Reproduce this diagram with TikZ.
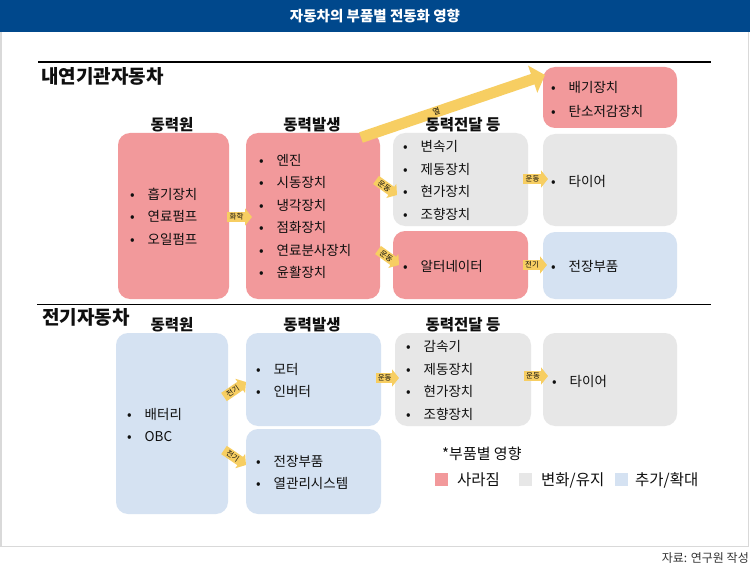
\documentclass[tikz,border=0pt]{standalone}
\usepackage{fontspec}
\setmainfont{Noto Sans CJK KR}
\usetikzlibrary{fit,arrows.meta}
\definecolor{pinkc}{RGB}{242,153,155}
\definecolor{grayc}{RGB}{231,231,231}
\definecolor{bluec}{RGB}{213,226,242}
\definecolor{yellowc}{RGB}{247,206,98}
\definecolor{titlec}{RGB}{0,72,140}
\definecolor{framec}{RGB}{217,217,217}
\definecolor{textc}{RGB}{15,15,15}
\newcommand{\itm}[1]{\makebox[17.5pt][l]{•}#1}
\begin{document}
\begin{tikzpicture}[x=1pt,y=-1pt,
  box/.style={rounded corners=12pt, inner sep=0pt, draw=none},
  pinkbox/.style={box, fill=pinkc},
  graybox/.style={box, fill=grayc},
  bluebox/.style={box, fill=bluec},
  listtxt/.style={anchor=west, align=left, inner sep=0pt, text=textc, font=\fontsize{13.5}{22.5}\selectfont},
  colhead/.style={inner sep=0pt, text=textc, font=\bfseries\fontsize{15.5}{17}\selectfont},
  sechead/.style={anchor=west, inner sep=0pt, text=textc, font=\bfseries\fontsize{19}{21}\selectfont},
  blockarrow/.style={draw=yellowc, line width=10pt, -{Triangle[width=17pt,length=7pt]}},
  heatarrow/.style={draw=yellowc, line width=11pt, -{Triangle[width=28pt,length=13pt]}},
  arrowlbl/.style={font=\fontsize{7.5}{7.5}\selectfont, inner sep=0pt, sloped, text=textc},
  rulel/.style={line width=1.8pt, draw=black},
  legsq/.style={minimum size=13pt, inner sep=0pt, draw=none},
  legtxt/.style={anchor=west, inner sep=0pt, text=textc, font=\fontsize{15.5}{17}\selectfont}
]
\useasboundingbox (0,0) rectangle (750,567);
\fill[white] (0,0) rectangle (750,567);
% frame and title bar
\draw[draw=framec, line width=1.5pt] (1,1) rectangle (748.5,546.5);
\fill[titlec] (0,0) rectangle (750,32);
\node[text=white, font=\bfseries\fontsize{14.5}{16}\selectfont, inner sep=0pt] (title) at (375,16.5) {자동차의 부품별 전동화 영향};

% rules and section titles
\coordinate (r1a) at (38,62); \coordinate (r1b) at (711,62);
\coordinate (r2a) at (37,304.5); \coordinate (r2b) at (711,304.5);
\draw[rulel] (r1a) -- (r1b);
\draw[rulel] (r2a) -- (r2b);
\node[sechead] (sec1) at (41,76) {내연기관자동차};
\node[sechead] (sec2) at (42,317) {전기자동차};

% ICE boxes
\node[pinkbox, fit={(118,133) (229,299)}] (b1) {};
\node[pinkbox, fit={(246,133) (380,299)}] (b2) {};
\node[graybox, fit={(393,133) (528,226)}] (b3) {};
\node[pinkbox, fit={(393,231) (528,299)}] (b4) {};
\node[pinkbox, fit={(543,67) (677,128)}] (b5) {};
\node[graybox, fit={(543,134) (677,226)}] (b6) {};
\node[bluebox, fit={(543,232) (677,299)}] (b7) {};

% EV boxes
\node[bluebox, fit={(116,333) (228,514)}] (e1) {};
\node[bluebox, fit={(246,333) (381,426)}] (e2) {};
\node[bluebox, fit={(246,429) (381,514)}] (e3) {};
\node[graybox, fit={(395,333) (531,426)}] (e4) {};
\node[graybox, fit={(543,333) (677,426)}] (e5) {};

% heat arrow
\coordinate (heatS) at (361,137.5);
\coordinate (heatE) at (545,75);
\draw[heatarrow] (heatS) -- (heatE) node[arrowlbl, font=\fontsize{8}{8}\selectfont, pos=0.41] (heatl) {열};

% column headers
\node[colhead] (h1) at (172,125) {동력원};
\node[colhead] (h2) at (312,125) {동력발생};
\node[colhead] (h3) at (463,125) {동력전달 등};
\node[colhead] (h4) at (172,325) {동력원};
\node[colhead] (h5) at (312,325) {동력발생};
\node[colhead] (h6) at (463,325) {동력전달 등};

% ICE lists
\node[listtxt] (t1) at (130,216.5) {\itm{흡기장치}\\\itm{연료펌프}\\\itm{오일펌프}};
\node[listtxt] (t2) at (259,216.5) {\itm{엔진}\\\itm{시동장치}\\\itm{냉각장치}\\\itm{점화장치}\\\itm{연료분사장치}\\\itm{윤활장치}};
\node[listtxt] (t3) at (403,180.5) {\itm{변속기}\\\itm{제동장치}\\\itm{현가장치}\\\itm{조향장치}};
\node[listtxt] (t4) at (403,266.5) {\itm{알터네이터}};
\node[listtxt, font=\fontsize{13.5}{24}\selectfont] (t5) at (551,99) {\itm{배기장치}\\\itm{탄소저감장치}};
\node[listtxt] (t6) at (551,181) {\itm{타이어}};
\node[listtxt] (t7) at (551,266.5) {\itm{전장부품}};

% EV lists
\node[listtxt] (u1) at (127,425) {\itm{배터리}\\\itm{OBC}};
\node[listtxt] (u2) at (256,380.5) {\itm{모터}\\\itm{인버터}};
\node[listtxt, font=\fontsize{13.5}{21.5}\selectfont] (u3) at (256,472.5) {\itm{전장부품}\\\itm{열관리시스템}};
\node[listtxt] (u4) at (406,380.5) {\itm{감속기}\\\itm{제동장치}\\\itm{현가장치}\\\itm{조향장치}};
\node[listtxt] (u5) at (552,381) {\itm{타이어}};

% small block arrows
\coordinate (a1s) at (227,217);  \coordinate (a1e) at (252,217);
\coordinate (a2s) at (376,180);  \coordinate (a2e) at (397,195);
\coordinate (a3s) at (378,250);  \coordinate (a3e) at (399,265);
\coordinate (a4s) at (523,179);  \coordinate (a4e) at (548,179);
\coordinate (a5s) at (523,265);  \coordinate (a5e) at (547,265);
\coordinate (a6s) at (224,397);  \coordinate (a6e) at (246,382);
\coordinate (a7s) at (224,450);  \coordinate (a7e) at (246,465);
\coordinate (a8s) at (376,378);  \coordinate (a8e) at (399,378);
\coordinate (a9s) at (524,376);  \coordinate (a9e) at (548,376);
\draw[blockarrow] (a1s) -- (a1e) node[arrowlbl, pos=0.38] {화학};
\draw[blockarrow] (a2s) -- (a2e) node[arrowlbl, pos=0.4] {운동};
\draw[blockarrow] (a3s) -- (a3e) node[arrowlbl, pos=0.4] {운동};
\draw[blockarrow] (a4s) -- (a4e) node[arrowlbl, pos=0.38] {운동};
\draw[blockarrow] (a5s) -- (a5e) node[arrowlbl, pos=0.38] {전기};
\draw[blockarrow] (a6s) -- (a6e) node[arrowlbl, pos=0.4] {전기};
\draw[blockarrow] (a7s) -- (a7e) node[arrowlbl, pos=0.4] {전기};
\draw[blockarrow] (a8s) -- (a8e) node[arrowlbl, pos=0.38] {운동};
\draw[blockarrow] (a9s) -- (a9e) node[arrowlbl, pos=0.38] {운동};

% legend
\node[anchor=west, inner sep=0pt, text=textc, font=\fontsize{15}{17}\selectfont] (legt) at (442,454) {*부품별 영향};
\node[legsq, fill=pinkc] (lq1) at (441.5,479.5) {};
\node[legtxt] (lt1) at (457,480) {사라짐};
\node[legsq, fill=grayc] (lq2) at (525,479.5) {};
\node[legtxt] (lt2) at (541,480) {변화/유지};
\node[legsq, fill=bluec] (lq3) at (621.5,479.5) {};
\node[legtxt] (lt3) at (635,480) {추가/확대};

% footer
\node[anchor=east, inner sep=0pt, text=black!80, font=\fontsize{12}{14}\selectfont] (src) at (749,558) {자료: 연구원 작성};
\end{tikzpicture}
\end{document}
